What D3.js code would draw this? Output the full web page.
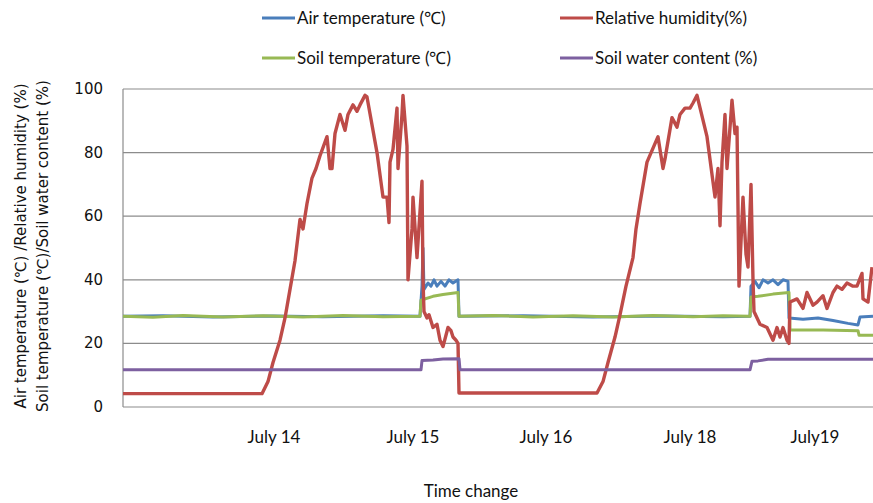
<!DOCTYPE html>
<html>
<head>
<meta charset="utf-8">
<script src="https://cdn.jsdelivr.net/npm/d3@7"></script>
<style>
  body { margin: 0; background: #fff; }
  svg { display: block; }
</style>
</head>
<body>
<div id="container"></div>
<script>
// sample position along the record (0..750), value
var airTemp = [[0,28.5],[40,28.7],[90,28.3],[150,28.6],[200,28.4],[260,28.7],[297,28.5],[299,38],[300,50],[301,37],[305,39],[308,38],[311,40],[314,38],[318,39.5],[322,38],[326,40],[330,39],[335,40],[336,28.5],
  [400,28.7],[470,28.3],[540,28.6],[600,28.4],[627,28.5],[628,38],[632,39.5],[636,37.5],[640,40],[645,39],[650,40],[655,38.5],[660,40],[665,39.5],[666,28],[680,27.6],[695,28],[710,27.2],[725,26.3],[735,25.8],[737,28.3],[750,28.5]];
var humidity = [[0,4.2],[139,4.2],[145,8],[150,14],[157,21],[162,28],[167,37],[172,46],[177,59],[180,56],[184,64],[189,72],[193,75],[197,79],[204,85],[207,75],[209,75],[212,86],[217,92],[222,87],[225,92],[230,95],[234,93],[237,95],[242,98],[244,97.5],[254,80],[260,66],[264,66],[266,58],[267,77],[270,81],[274,94],[275,75],[279,92],[280,98],[284,82],[285,40],[289,56],[290,66],[294,47],[299,71],[300,40],
  [301,30],[304,28],[306,29],[310,25],[314,26],[317,21],[320,19],[325,25],[328,24],[330,22],[333,21],[335,20],[336,4.4],[474,4.4],
  [480,8],[485,14],[492,22],[497,29],[503,38],[510,47],[513,56],[517,64],[524,77],[535,85],[540,75],[542,78],[549,91],[554,88],[557,92],[562,94],[567,94],[570,95.6],[574,98],[584,85],[592,66],[595,75],[597,57],[599,77],[602,92],[604,75],[609,96.5],[612,86],[614,88],[616,38],[620,66],[623,48],[625,44],[628,70],[630,40],
  [631,30],[637,26],[644,25],[650,21],[654,25],[657,22],[660,25],[664,21],[666,20],[667,33],[674,34],[680,31],[684,36],[690,32],[694,33],[700,35],[704,31],[710,36],[714,38],[719,37],[724,39],[730,38],[734,38],[739,42],[740,34],[745,33],[749,44]];
var soilTemp = [[0,28.5],[30,28.2],[60,28.8],[100,28.3],[140,28.7],[180,28.3],[220,28.8],[260,28.4],[297,28.5],[298,33.6],[300,33.8],[310,34.8],[320,35.4],[335,36],[336,28.5],
  [370,28.8],[410,28.3],[450,28.7],[490,28.3],[530,28.8],[570,28.4],[600,28.7],[627,28.5],[628,34.6],[635,34.8],[650,35.5],[666,36],[667,24.2],[700,24.2],[735,24],[736,22.6],[750,22.6]];
var soilWater = [[0,11.7],[298,11.7],[299,14.6],[310,14.8],[320,15.1],[336,15.2],[337,11.7],[627,11.7],[629,14.4],[635,14.5],[645,15],[750,15]];

var dayLabels = ["July 14", "July 15", "July 16", "July 18", "July19"];
var dayPos = [151, 290, 423, 567, 692];
var yTicks = [0, 20, 40, 60, 80, 100];

var series = [
  {name: "Air temperature (\u2103)", data: airTemp, color: "#4a7ebb"},
  {name: "Relative humidity(%)", data: humidity, color: "#be4b48"},
  {name: "Soil temperature (\u2103)", data: soilTemp, color: "#98b954"},
  {name: "Soil water content (%)", data: soilWater, color: "#7d60a0"}
];

var width = 873, height = 503;
var margin = {top: 89, right: 0, bottom: 96, left: 123};
var labelFont = "Lato, Open Sans";

var svg = d3.select("#container").append("svg").attr("width", width).attr("height", height);

var x = d3.scaleLinear().domain([0, 750]).range([margin.left, width - margin.right]);
var y = d3.scaleLinear().domain([0, 100]).range([height - margin.bottom, margin.top]);

// grid
svg.append("g").selectAll("line").data(yTicks.slice(1)).enter().append("line")
  .attr("x1", margin.left).attr("x2", width)
  .attr("y1", function(d){ return y(d); }).attr("y2", function(d){ return y(d); })
  .attr("stroke", "#8c8c8c").attr("stroke-width", 1.2);

// axes lines
svg.append("line").attr("x1", margin.left).attr("x2", margin.left)
  .attr("y1", y(100)).attr("y2", y(0)).attr("stroke", "#8c8c8c").attr("stroke-width", 1.2);
svg.append("line").attr("x1", margin.left).attr("x2", width)
  .attr("y1", y(0)).attr("y2", y(0)).attr("stroke", "#8c8c8c").attr("stroke-width", 1.2);

// y tick labels
svg.append("g").selectAll("text").data(yTicks).enter().append("text")
  .attr("x", 103).attr("y", function(d){ return y(d) + 5; })
  .attr("text-anchor", "end")
  .style("font-family", "DejaVu Sans").style("font-size", "15px").attr("fill", "#111")
  .text(function(d){ return d; });

// x labels
svg.append("g").selectAll("text").data(dayLabels).enter().append("text")
  .attr("x", function(d, i){ return x(dayPos[i]); }).attr("y", 443)
  .attr("text-anchor", "middle")
  .style("font-family", labelFont).style("font-size", "17px").attr("fill", "#111")
  .text(function(d){ return d; });

svg.append("text").attr("x", 471).attr("y", 497).attr("text-anchor", "middle")
  .style("font-family", labelFont).style("font-size", "17px").attr("fill", "#111")
  .text("Time change");

// y title
var yt = svg.append("text").attr("transform", "translate(0," + 246 + ") rotate(-90)")
  .attr("text-anchor", "middle")
  .style("font-family", "DejaVu Sans").style("font-size", "15px").attr("fill", "#111");
yt.append("tspan").attr("x", 0).attr("y", 26).text("Air temperature  (\u2103) /Relative humidity  (%)");
yt.append("tspan").attr("x", 0).attr("y", 48).text("Soil temperature  (\u2103)/Soil water content (%)");

// lines
var line = d3.line().x(function(d){ return x(d[0]); }).y(function(d){ return y(d[1]); });
var order = [0, 2, 1, 3];
order.forEach(function(k){
  svg.append("path").datum(series[k].data).attr("d", line)
    .attr("fill", "none").attr("stroke", series[k].color)
    .attr("stroke-width", k == 1 ? 3.4 : 3).attr("stroke-linejoin", "round");
});

// legend
var legX = [262, 560], legY = [18, 58];
series.forEach(function(s, i){
  var lx = legX[i % 2], ly = legY[Math.floor(i / 2)];
  svg.append("line").attr("x1", lx).attr("x2", lx + 33).attr("y1", ly).attr("y2", ly)
    .attr("stroke", s.color).attr("stroke-width", 3);
  svg.append("text").attr("x", lx + 35).attr("y", ly + 6)
    .style("font-family", labelFont).style("font-size", "17px").attr("fill", "#111")
    .text(s.name);
});
</script>
</body>
</html>
